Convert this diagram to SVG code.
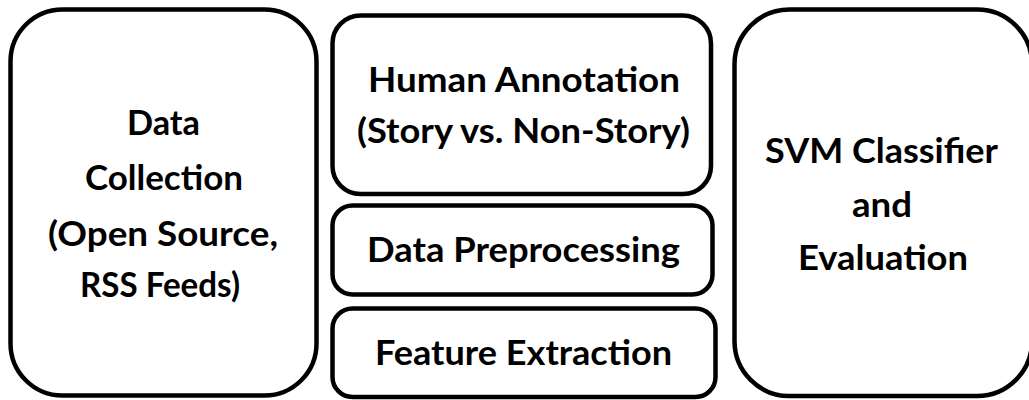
<svg xmlns="http://www.w3.org/2000/svg" width="1029" height="400" viewBox="0 0 1029 400">
<style>
.box{fill:#fff;stroke:#000;stroke-width:4.5}
.t{font-family:Lato,"Liberation Sans",sans-serif;font-weight:bold;font-size:35px;fill:#000;text-anchor:middle}
</style>
<rect width="1029" height="400" fill="#fff"/>
<g id="connectors"></g>
<g id="data-collection">
<rect class="box" x="10.5" y="9.5" width="306" height="386" rx="52" ry="52"/>
<text class="t" x="163.5" y="135" textLength="73" lengthAdjust="spacingAndGlyphs">Data</text>
<text class="t" x="164" y="190" textLength="158" lengthAdjust="spacingAndGlyphs">Collection</text>
<text class="t" x="163" y="246" textLength="230" lengthAdjust="spacingAndGlyphs">(Open Source,</text>
<text class="t" x="160" y="297" textLength="160" lengthAdjust="spacingAndGlyphs">RSS Feeds)</text>
</g>
<g id="human-annotation">
<rect class="box" x="332.5" y="15.5" width="378.5" height="178.5" rx="28" ry="28"/>
<text class="t" x="524" y="92" textLength="312" lengthAdjust="spacingAndGlyphs">Human Annotation</text>
<text class="t" x="523.5" y="143" textLength="333" lengthAdjust="spacingAndGlyphs">(Story vs. Non-Story)</text>
</g>
<g id="data-preprocessing">
<rect class="box" x="332.5" y="205.5" width="380" height="89" rx="20" ry="20"/>
<text class="t" x="523.5" y="262" textLength="313" lengthAdjust="spacingAndGlyphs">Data Preprocessing</text>
</g>
<g id="feature-extraction">
<rect class="box" x="332.5" y="308.5" width="383" height="88.5" rx="20" ry="20"/>
<text class="t" x="523.5" y="365" textLength="297" lengthAdjust="spacingAndGlyphs">Feature Extraction</text>
</g>
<g id="svm-classifier">
<rect class="box" x="734.5" y="9.5" width="297.5" height="386.5" rx="55" ry="55"/>
<text class="t" x="881.5" y="163" textLength="233" lengthAdjust="spacingAndGlyphs">SVM Classifier</text>
<text class="t" x="882" y="217" textLength="60" lengthAdjust="spacingAndGlyphs">and</text>
<text class="t" x="883" y="270" textLength="170" lengthAdjust="spacingAndGlyphs">Evaluation</text>
</g>
</svg>
